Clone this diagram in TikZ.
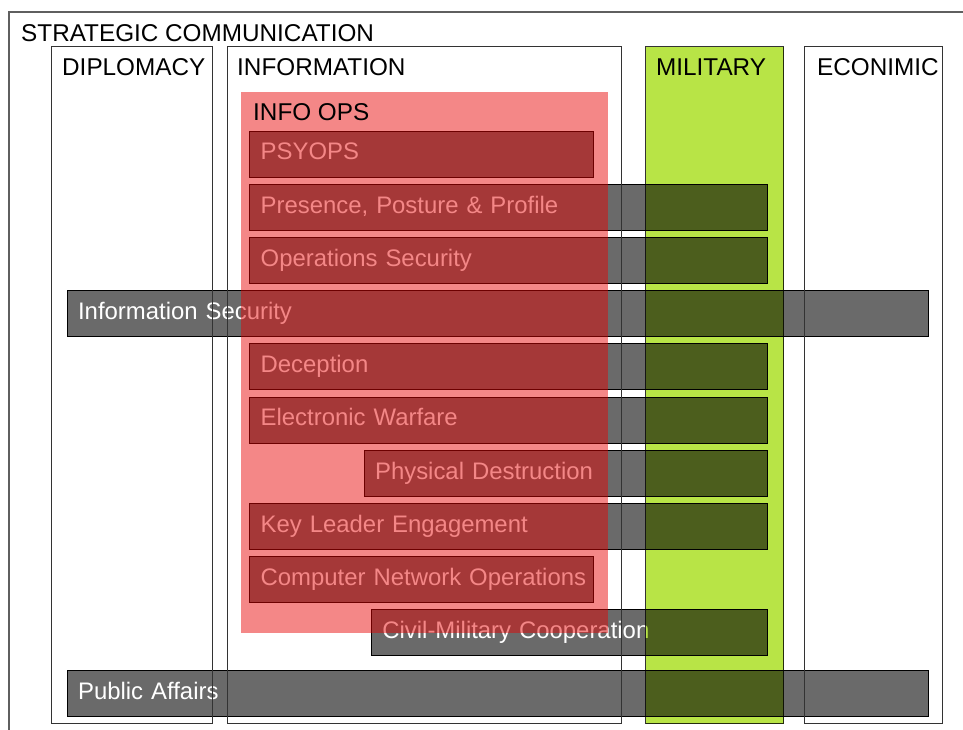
\documentclass[tikz,border=0pt]{standalone}
\usepackage{fontspec}
\setmainfont{Liberation Sans}
\usepackage{tikz}

\definecolor{barfill}{RGB}{106,106,106}
\definecolor{iofill}{RGB}{232,0,0}
\definecolor{milfill}{RGB}{184,228,70}
\definecolor{rulegray}{RGB}{95,95,95}

\begin{document}
\begin{tikzpicture}[x=1pt,y=-1pt,
    head/.style={inner sep=0pt,anchor=base west,font=\fontsize{24.3}{29}\selectfont},
    box/.style={draw=black!80,line width=1pt,anchor=north west,inner sep=0pt},
    bar/.style={draw=black,line width=0.8pt,fill=barfill,text=white,anchor=north west,
      font=\fontsize{23.9}{28}\selectfont,
      minimum height=46pt,inner xsep=11pt,inner ysep=0pt,
      text height=17pt,text depth=5pt,align=left,text width=#1-22pt}]
    \useasboundingbox (0,0) rectangle (963,729);
    \clip (0,0) rectangle (963,729);

    % outer frame, runs off the page
    \draw[rulegray,line width=1.5pt] (9,12) rectangle (980,745);

    % bars
    \node[bar=343.4pt] (psy)  at (249.3,130.5) {PSYOPS};
    \node[bar=517.4pt] (ppp)  at (249.3,183.7) {Presence, Posture \& Profile};
    \node[bar=517.4pt] (opsec) at (249.3,236.9) {Operations Security};
    \node[bar=860.8pt] (infosec) at (66.7,290.1) {Information Security};
    \node[bar=517.4pt] (dec)  at (249.3,343.3) {Deception};
    \node[bar=517.4pt] (ew)   at (249.3,396.5) {Electronic Warfare};
    \node[bar=403pt]   (pd)   at (363.7,449.7) {Physical Destruction};
    \node[bar=517.4pt] (kle)  at (249.3,502.9) {Key Leader Engagement};
    \node[bar=343.4pt] (cno)  at (249.3,556.1) {\mbox{Computer Network Operations}};
    \node[bar=395.7pt] (cimic) at (371,609.3) {Civil-Military Cooperation};
    \node[bar=860.8pt] (pa)   at (66.7,670) {Public Affairs};

    % columns
    \node[box,minimum width=161pt,minimum height=677pt] (dipl) at (51,46) {};
    \node[box,minimum width=394pt,minimum height=677pt] (info) at (227,46) {};
    \node[box,minimum width=138pt,minimum height=677pt] (econ) at (804,46) {};

    % info ops layer
    \node[anchor=north west,inner sep=0pt,fill=iofill,fill opacity=0.47,
      minimum width=366.7pt,minimum height=540.6pt] (io) at (241,91.7) {};

    \begin{scope}[blend mode=multiply]
      \node[box,fill=milfill,minimum width=138pt,minimum height=677pt] (mil) at (645,46) {};
    \end{scope}

    % headings
    \node[head] (stratcom) at (21,41) {STRATEGIC COMMUNICATION};
    \node[head] (tdipl) at (62,75) {DIPLOMACY};
    \node[head] (tinfo) at (237,75) {INFORMATION};
    \node[head] (tmil)  at (656,75) {MILITARY};
    \node[head] (tecon) at (817,75) {ECONIMIC};
    \node[head] (tio)   at (253,120) {INFO OPS};
\end{tikzpicture}
\end{document}
